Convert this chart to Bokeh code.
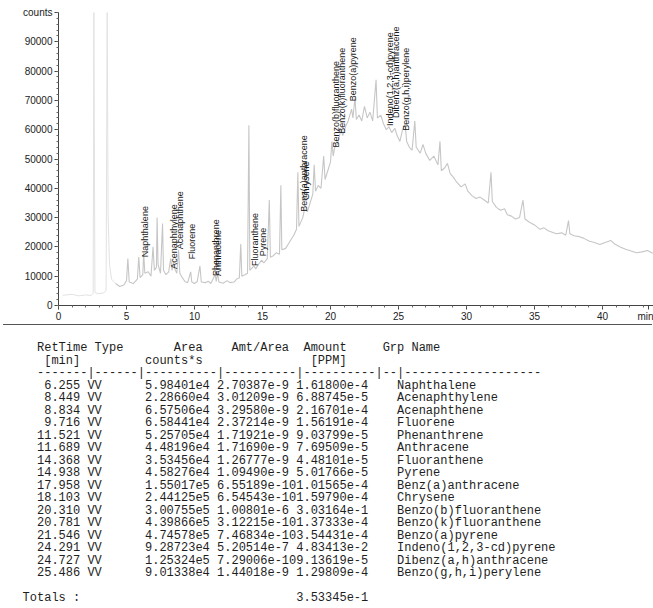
import math
from bokeh.plotting import figure
from bokeh.models import Range1d, FixedTicker, ColumnDataSource, Div, BasicTickFormatter
from bokeh.layouts import column
from bokeh.embed import file_html
from bokeh.resources import INLINE
from bokeh.core.properties import value

# ---------------- chromatogram trace ----------------
trace_min = [0.3, 1.0, 1.5, 2.0, 2.4, 2.55, 2.6, 2.68, 2.9, 3.3, 3.5, 3.58, 3.65, 3.75, 3.9,
             4.2, 4.5, 4.8, 5.0, 5.1, 5.2, 5.5, 5.8, 5.9, 6.0, 6.2, 6.26, 6.35, 6.6, 6.8,
             6.95, 7.05, 7.2, 7.25, 7.32, 7.5, 7.65, 7.72, 7.9, 8.1, 8.25, 8.35, 8.45, 8.55,
             8.7, 8.83, 8.92, 9.1, 9.3, 9.5, 9.72, 9.8, 10.0, 10.2, 10.4, 10.5, 10.8, 11.0,
             11.2, 11.52, 11.6, 11.69, 11.8, 12.1, 12.4, 12.6, 12.9, 13.1, 13.3, 13.4, 13.48,
             13.7, 13.9, 14.0, 14.07, 14.37, 14.5, 14.7, 14.94, 15.1, 15.35, 15.5, 15.58,
             15.8, 16.0, 16.25, 16.35, 16.42, 16.7, 16.9, 17.1, 17.3, 17.5, 17.6, 17.68,
             17.96, 18.1, 18.3, 18.5, 18.7, 18.8, 18.9, 19.1, 19.3, 19.5, 19.6, 19.8, 20.0,
             20.1, 20.2, 20.31, 20.5, 20.78, 20.9, 21.1, 21.3, 21.55, 21.65, 21.8, 21.9,
             22.1, 22.3, 22.5, 22.7, 22.9, 23.1, 23.35, 23.45, 23.7, 23.9, 24.1, 24.3, 24.5,
             24.73, 24.9, 25.1, 25.3, 25.49, 25.6, 25.8, 26.0, 26.2, 26.3, 26.6, 26.8, 27.0,
             27.3, 27.6, 27.9, 28.05, 28.15, 28.4, 28.6, 28.8, 29.0, 29.3, 29.6, 29.9, 30.1,
             30.4, 30.7, 31.0, 31.3, 31.6, 31.8, 31.9, 32.2, 32.5, 32.8, 33.0, 33.3, 33.6,
             33.9, 34.15, 34.3, 34.6, 35.0, 35.4, 35.7, 36.0, 36.3, 36.6, 37.0, 37.3, 37.5,
             37.6, 37.9, 38.3, 38.6, 39.0, 39.4, 39.8, 40.2, 40.6, 40.9, 41.3, 41.7, 42.1,
             42.5, 42.9, 43.3, 43.7]
trace_counts = [3500, 3800, 3300, 3600, 3400, 4200, 101000, 4500, 4000, 4300, 5000, 101000, 30000, 14000, 9000,
                7500, 6500, 7000, 8500, 16000, 8000, 7500, 9000, 16500, 9500, 10500, 18000, 11000, 11500, 10000,
                20000, 12000, 13000, 30000, 14000, 11000, 28000, 12000, 10500, 11500, 16000, 12000, 15000, 12500,
                11000, 19000, 11000, 9500, 8200, 7800, 11500, 8000, 7500, 8200, 13500, 8000, 7800, 8300,
                7500, 10500, 8200, 11000, 8000, 7600, 8500, 7800, 8000, 9000, 9500, 21000, 10000,
                10500, 11000, 61500, 12000, 13500, 12500, 14000, 15500, 14500, 16000, 36000, 16500,
                17000, 18000, 17500, 41000, 19000, 19500, 21000, 22500, 24000, 26000, 45500, 27000,
                30000, 33000, 32000, 35000, 38000, 48000, 39000, 41000, 40000, 51000, 43000, 46000, 49000,
                56000, 51000, 54000, 55000, 60000, 58000, 61000, 63000, 67000, 64000, 71000, 63500,
                65000, 63000, 68000, 64000, 66000, 63000, 77000, 64000, 65000, 62000, 60000, 61000, 59000,
                60500, 58000, 56000, 60000, 62000, 56000, 54000, 53000, 63000, 54000, 52000, 55000, 52000,
                49500, 51000, 48000, 56000, 46000, 47000, 48500, 45000, 44000, 42000, 40500, 41500, 39000,
                37500, 36500, 37000, 36000, 35000, 45500, 35500, 33500, 32500, 33000, 31000, 30500, 29500,
                30000, 36000, 29500, 28500, 27500, 26000, 26500, 25500, 25000, 24500, 24800, 24000, 29000,
                24500, 23800, 23500, 23000, 22000, 21500, 20800, 21500, 22200, 21000, 20000, 19200, 18600,
                18000, 18300, 18800, 17800]

# ---------------- identified peaks ----------------
peak_names = ["Naphthalene", "Acenaphthylene", "Acenaphthene", "Fluorene", "Phenanthrene",
              "Anthracene", "Fluoranthene", "Pyrene", "Benz(a)anthracene", "Chrysene",
              "Benzo(b)fluoranthene", "Benzo(k)fluoranthene", "Benzo(a)pyrene",
              "Indeno(1,2,3-cd)pyrene", "Dibenz(a,h)anthracene", "Benzo(g,h,i)perylene"]
ret_times = [6.255, 8.449, 8.834, 9.716, 11.521, 11.689, 14.368, 14.938, 17.958, 18.103,
             20.310, 20.781, 21.546, 24.291, 24.727, 25.486]
label_counts = [16500, 12500, 19200, 15800, 10100, 10100, 13500, 16800, 32000, 36000,
                53900, 58600, 69700, 61300, 64000, 59600]

# ---------------- report table ----------------
peak_type = ["VV", "VV", "VV", "VV", "VV", "VV", "VV", "VV", "VV", "VV", "VV", "VV", "VV", "VV", "VV", "VV"]
area = ["5.98401e4", "2.28660e4", "6.57506e4", "6.58441e4", "5.25705e4", "4.48196e4", "3.53456e4",
        "4.58276e4", "1.55017e5", "2.44125e5", "3.00755e5", "4.39866e5", "4.74578e5", "9.28723e4",
        "1.25324e5", "9.01338e4"]
amt_area = ["2.70387e-9", "3.01209e-9", "3.29580e-9", "2.37214e-9", "1.71921e-9", "1.71690e-9",
            "1.26777e-9", "1.09490e-9", "6.55189e-10", "6.54543e-10", "1.00801e-6", "3.12215e-10",
            "7.46834e-10", "5.20514e-7", "7.29006e-10", "1.44018e-9"]
amount = ["1.61800e-4", "6.88745e-5", "2.16701e-4", "1.56191e-4", "9.03799e-5", "7.69509e-5",
          "4.48101e-5", "5.01766e-5", "1.01565e-4", "1.59790e-4", "3.03164e-1", "1.37333e-4",
          "3.54431e-4", "4.83413e-2", "9.13619e-5", "1.29809e-4"]
total_amount = "3.53345e-1"
y_ticks = [0, 10000, 20000, 30000, 40000, 50000, 60000, 70000, 80000, 90000, 100000]
x_ticks = [0, 5, 10, 15, 20, 25, 30, 35, 40, 43.4]

# ================= chart =================
W = 653
H1 = 324
chart = figure(width=W, height=H1, output_backend="svg", toolbar_location=None,
               x_range=Range1d(0, 43.75), y_range=Range1d(0, 100000),
               min_border_left=58, min_border_right=0, min_border_top=12, min_border_bottom=16)
chart.grid.visible = False
chart.outline_line_color = None
chart.background_fill_color = "white"
chart.border_fill_color = "white"

n_solvent = 15  # first points: faint solvent front
chart.line(trace_min[:n_solvent + 1], trace_counts[:n_solvent + 1], line_color="#e2e2e2", line_width=1)
chart.line(trace_min[n_solvent:], trace_counts[n_solvent:], line_color="#c6c6c6", line_width=1.1)

lab_src = ColumnDataSource(dict(x=ret_times, y=label_counts, t=peak_names))
chart.text(x="x", y="y", text="t", source=lab_src, angle=math.pi / 2, x_offset=1,
           text_align="left", text_baseline="middle", text_font=value("Liberation Sans"),
           text_font_size="9px", text_color="#1a1a1a")

xa = chart.xaxis[0]
xa.ticker = FixedTicker(ticks=x_ticks, minor_ticks=list(range(0, 44)))
xa.formatter = BasicTickFormatter(use_scientific=False, precision=0)
xa.major_label_overrides = {43.4: "min"}
ya = chart.yaxis[0]
ya.ticker = FixedTicker(ticks=y_ticks, minor_ticks=list(range(0, 100001, 2000)))
ya.formatter = BasicTickFormatter(use_scientific=False, precision=0)
ya.major_label_overrides = {100000: "counts"}
for ax in (xa, ya):
    ax.axis_line_color = "#444444"
    ax.major_tick_line_color = "#444444"
    ax.minor_tick_line_color = "#666666"
    ax.major_tick_out = 4
    ax.major_tick_in = 0
    ax.minor_tick_out = 2
    ax.minor_tick_in = 0
    ax.major_label_text_font = "Liberation Sans"
    ax.major_label_text_font_size = "10px"
    ax.major_label_text_color = "#222222"
xa.major_label_standoff = 1
ya.major_label_standoff = 2

# ================= report table (monospace text) =================
def place(parts):
    buf = [" "] * 90
    for c, t in parts:
        for i, ch in enumerate(t):
            buf[c + i] = ch
    return "".join(buf).rstrip()

# column layout of the printout (character columns, 0 = "Totals" line start)
lines = [
    place([(2, "RetTime"), (10, "Type"), (21, "Area"), (29, "Amt/Area"), (39, "Amount"), (50, "Grp"), (54, "Name")]),
    place([(3, "[min]"), (17, "counts*s"), (40, "[PPM]")]),
    place([(2, "-------|------|----------|----------|----------|--|-------------------")]),
]
for i in range(len(ret_times)):
    rt = "%.3f" % ret_times[i]
    lines.append(place([(8 - len(rt), rt), (9, peak_type[i]), (17, area[i]), (27, amt_area[i]),
                        (38, amount[i]), (52, peak_names[i])]))
lines.append("")
lines.append(place([(0, "Totals :"), (38, total_amount)]))

H2 = 276
esc = lambda s: s.replace("&", "&amp;").replace("<", "&lt;").replace(">", "&gt;")
html = (
    f'<div style="position:relative;width:643px;height:{H2}px;background:white;overflow:visible;">'
    '<div style="position:absolute;left:-2px;top:-5px;width:649px;height:0px;border-top:1px solid #555;"></div>'
    '<pre style="position:absolute;left:17.6px;top:13px;margin:0;padding:0;'
    "font-family:'Liberation Mono',monospace;font-size:12px;line-height:12.5px;color:#1e1e1e;\">"
    + "\n".join(esc(l) for l in lines)
    + "</pre></div>"
)
table = Div(text=html, width=643, height=H2)

layout = column(chart, table, spacing=0)
open("out.html", "w").write(file_html(layout, INLINE))
